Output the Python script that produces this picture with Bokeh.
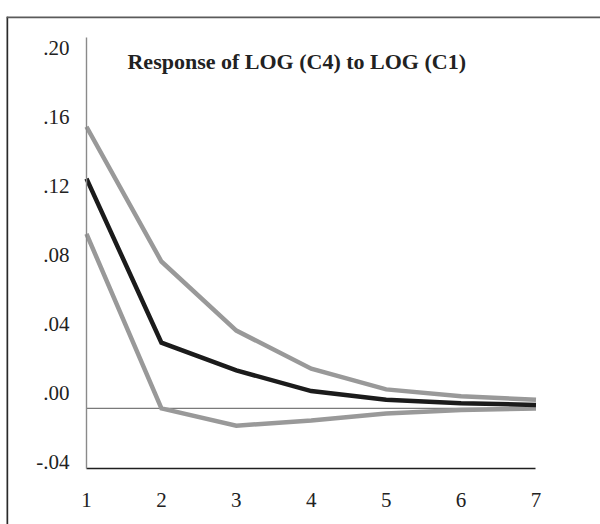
from bokeh.plotting import figure
from bokeh.models import Range1d, LinearAxis, FixedTicker, Span, Label
from bokeh.embed import file_html
from bokeh.resources import INLINE

# ---- data ----
periods = [1, 2, 3, 4, 5, 6, 7]
response = [0.133, 0.038, 0.022, 0.010, 0.005, 0.003, 0.002]
upper = [0.163, 0.085, 0.045, 0.023, 0.011, 0.007, 0.005]
lower = [0.101, 0.000, -0.010, -0.007, -0.003, -0.001, 0.000]

y_ticks = [-0.04, 0.0, 0.04, 0.08, 0.12, 0.16, 0.20]
y_tick_labels = ["-.04", ".00", ".04", ".08", ".12", ".16", ".20"]
x_ticks = [1, 2, 3, 4, 5, 6, 7]
x_tick_labels = ["1", "2", "3", "4", "5", "6", "7"]
title_text = "Response of LOG (C4) to LOG (C1)"

# ---- ranges ----
X0, X1 = -0.0678, 7.861            # whole framed area
Y0, Y1 = -0.0672, 0.2268
AX_Y0, AX_Y1 = -0.0346, 0.2145     # extent of the plotted axes
LABEL_SHIFT = 0.0088               # value labels sit slightly above their values in the source
FONT = "Liberation Serif"

p = figure(width=600, height=524, output_backend="svg", toolbar_location=None,
           x_range=Range1d(X0, X1), y_range=Range1d(Y0, Y1),
           x_axis_location=None, y_axis_location=None,
           min_border_left=6, min_border_right=0,
           min_border_top=16, min_border_bottom=0)
p.outline_line_color = None
p.xgrid.visible = False
p.ygrid.visible = False
p.background_fill_color = "white"
p.border_fill_color = "white"

p.extra_y_ranges = {"lab": Range1d(Y0 - LABEL_SHIFT, Y1 - LABEL_SHIFT)}

yax = LinearAxis(y_range_name="lab", ticker=FixedTicker(ticks=y_ticks),
                 fixed_location=periods[0],
                 bounds=(AX_Y0 - LABEL_SHIFT, AX_Y1 - LABEL_SHIFT))
yax.major_label_overrides = dict(zip(y_ticks, y_tick_labels))
yax.axis_line_color = "#8a8a8a"
yax.axis_line_width = 1.4
yax.major_tick_in = 0
yax.major_tick_out = 0
yax.minor_tick_in = 0
yax.minor_tick_out = 0
yax.major_label_standoff = 17
yax.major_label_text_font = FONT
yax.major_label_text_font_size = "21px"
yax.major_label_text_color = "#222222"
p.add_layout(yax, "left")

xax = LinearAxis(ticker=FixedTicker(ticks=x_ticks), fixed_location=AX_Y0,
                 bounds=(periods[0], periods[-1]))
xax.major_label_overrides = dict(zip(x_ticks, x_tick_labels))
xax.axis_line_color = "#1e1e1e"
xax.axis_line_width = 1.5
xax.major_tick_in = 0
xax.major_tick_out = 0
xax.minor_tick_in = 0
xax.minor_tick_out = 0
xax.major_label_standoff = 25
xax.major_label_text_font = FONT
xax.major_label_text_font_size = "21px"
xax.major_label_text_color = "#222222"
p.add_layout(xax, "below")

# frame of the panel: top and left edges
p.add_layout(Span(location=X0, dimension="height", line_color="#2a2a2a", line_width=3.4))
p.add_layout(Span(location=Y1, dimension="width", line_color="#5a5a5a", line_width=3.4))

# zero line between the first and last period
p.line([periods[0], periods[-1]], [0, 0], line_color="#7a7a7a", line_width=1.3)

# response and bands
p.line(periods, upper, line_color="#999999", line_width=4.5, line_join="miter")
p.line(periods, lower, line_color="#999999", line_width=4.5, line_join="miter")
p.line(periods, response, line_color="#1b1b1b", line_width=4.5, line_join="miter")

# title inside the panel
p.add_layout(Label(x=1.547, y=0.2005, text=title_text, text_font=FONT,
                   text_font_style="bold", text_font_size="22px",
                   text_color="#222222", text_baseline="alphabetic"))

open("out.html", "w").write(file_html(p, INLINE))
